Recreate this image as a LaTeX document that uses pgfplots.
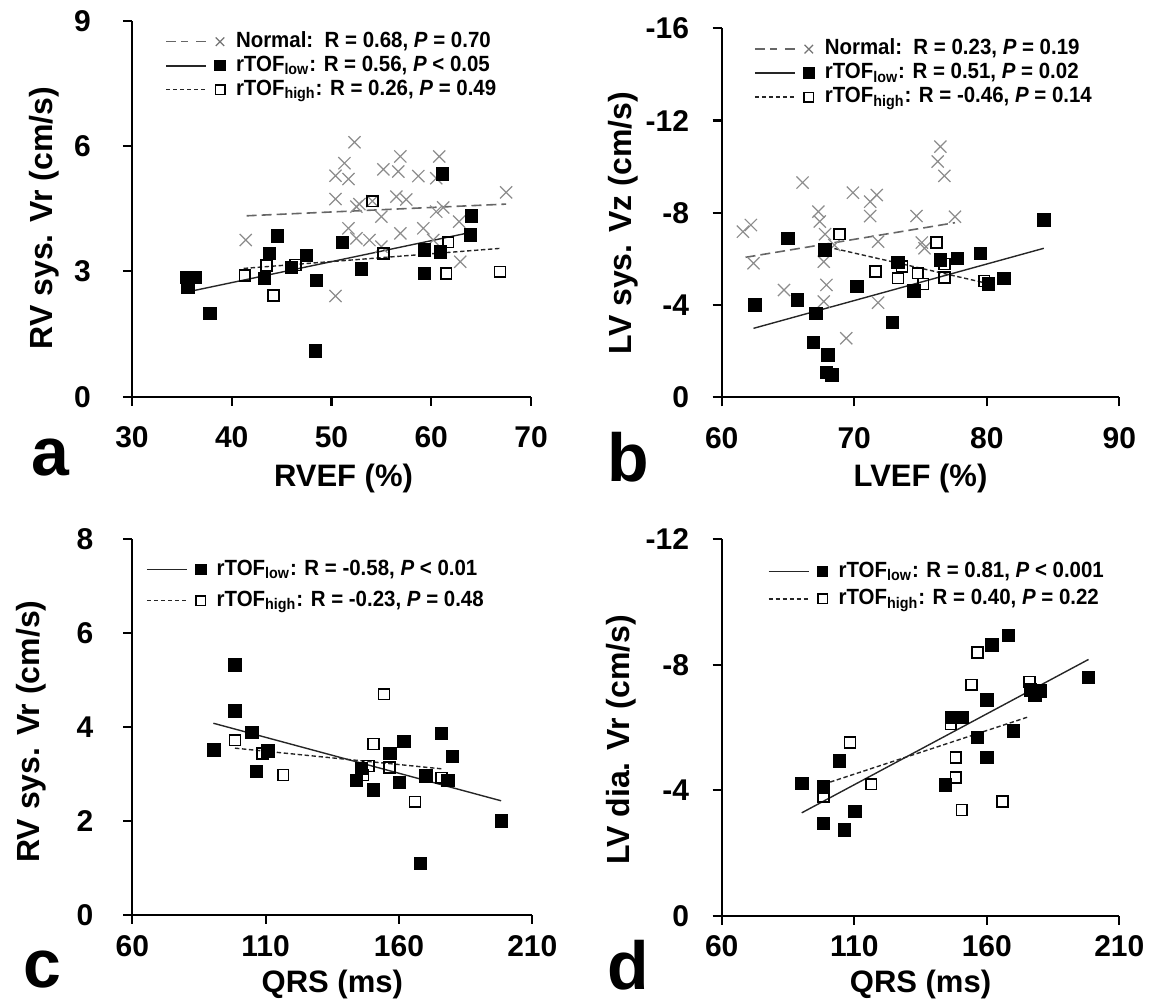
\documentclass[border=0pt]{standalone}
\usepackage{fontspec}
\setmainfont{Liberation Sans}
\newfontfamily\legfont[FakeStretch=0.93]{Liberation Sans}
\usepackage{pgfplots}
\pgfplotsset{compat=1.18}
\usepackage{graphicx}
\newcommand{\fs}[1]{\fontsize{#1}{#1}\selectfont\bfseries}
\newcommand{\lfs}[1]{\legfont\fontsize{#1}{#1}\selectfont\bfseries}
\pgfplotsset{
  panel/.style={
    scale only axis, clip=false,
    axis x line*=bottom, axis y line*=left,
    tick align=outside, major tick length=4.5pt,
    axis line style={line width=1.1pt, black},
    every tick/.style={line width=1.1pt, black},
    tick label style={font=\fs{15}},
    xlabel style={font=\fs{15.5}, anchor=base},
    ylabel style={font=\fs{16}, anchor=center},
    legend style={draw=none, fill=none, anchor=north west, inner sep=0pt, outer sep=0pt,
      font=\lfs{11}, row sep=0.4pt,
      nodes={inner sep=0.6pt, text height=8pt, text depth=2.4pt},
      /tikz/every even column/.append style={column sep=0pt}},
    legend cell align=left,
  },
  nmark/.style={only marks, mark=x, mark size=4.3pt, black!45, mark options={line width=0.6pt}},
  lmark/.style={only marks, mark=square*, mark size=3.1pt, black, mark options={fill=black}},
  hmark/.style={only marks, mark=square, mark size=2.7pt, black, mark options={line width=0.8pt, fill=white}},
  nline/.style={black!60, line width=0.8pt, dash pattern=on 5pt off 2.5pt,
    legend image code/.code={\draw[mark=none] (0pt,0pt)--(11pt,0pt) (15pt,0pt)--(20pt,0pt);
      \draw[solid, black!55, line width=0.6pt, mark=x, mark size=3pt] plot coordinates {(27pt,0pt)};
      \path (34pt,0pt);}},
  lline/.style={black!85, line width=0.7pt, solid,
    legend image code/.code={\draw[mark=none, line width=0.9pt] (0pt,0pt)--(20pt,0pt);
      \draw[solid, black, mark=square*, mark size=2.5pt, mark options={fill=black}] plot coordinates {(27pt,0pt)};
      \path (34pt,0pt);}},
  hline/.style={black!85, line width=0.7pt, dash pattern=on 2.2pt off 1.3pt,
    legend image code/.code={\draw[mark=none, line width=0.8pt] (0pt,0pt)--(20pt,0pt);
      \draw[solid, black, line width=0.7pt, mark=square, mark size=2.4pt, mark options={fill=white}] plot coordinates {(27pt,0pt)};
      \path (34pt,0pt);}},
}
\begin{document}
\begin{tikzpicture}
\useasboundingbox (0pt,0pt) rectangle (580pt,502pt);
% ---------------- panel a
\begin{axis}[panel, at={(66pt,303.65pt)}, anchor=south west, width=199.5pt, height=188pt,
  xmin=30, xmax=70, ymin=0, ymax=9, xtick={30,40,50,60,70}, ytick={0,3,6,9},
  xticklabels={30,40,50,60,70}, yticklabels={0,3,6,9},
  yticklabel shift=12.5pt, xticklabel shift=7pt,
  xlabel={RVEF (\%)}, ylabel={RV sys. Vr (cm/s)},
  xlabel style={at={(axis description cs:0.53,-0.24)}},
  ylabel style={at={(axis description cs:-0.2206,0.475)}},
  legend style={at={(axis description cs:0.083,0.975)}}]
\addplot[nmark, forget plot] coordinates {
(41.4,3.75) (50.4,2.41) (50.4,4.73) (50.4,5.29) (51.3,5.59) (51.7,5.21) (52.3,6.09) (51.7,4.03)
(52.5,4.55) (52.5,3.79) (52.8,4.61) (53.8,3.75) (54.1,4.68) (55.0,4.31) (55.2,5.44) (55.0,3.59)
(56.5,4.79) (56.7,5.39) (56.9,5.75) (56.9,3.91) (57.5,4.72) (58.7,5.28) (59.2,4.03) (60.2,3.75)
(60.5,5.23) (60.8,5.75) (60.5,4.43) (61.2,4.53) (62.8,4.19) (62.9,3.23) (67.5,4.89)};
\addplot[lmark, forget plot] coordinates {
(35.5,2.85) (36.3,2.85) (35.6,2.63) (37.8,2.00) (43.3,2.83) (43.8,3.43) (44.6,3.85) (46.0,3.09)
(47.5,3.38) (48.5,2.79) (48.4,1.10) (51.1,3.70) (53.0,3.06) (59.3,3.51) (59.3,2.95) (60.9,3.47)
(61.1,5.33) (64.0,4.33) (63.9,3.87)};
\addplot[hmark, forget plot] coordinates {
(41.3,2.90) (43.5,3.14) (44.2,2.42) (46.4,3.15) (54.1,4.68) (55.2,3.43) (61.7,3.70) (61.5,2.95) (66.9,2.99)};
\addplot[nline] coordinates {(41.5,4.33) (67.5,4.61)};
\addlegendentry{Normal:\ \ R = 0.68, \textit{P} = 0.70}
\addplot[lline] coordinates {(36.2,2.54) (63.9,3.93)};
\addlegendentry{rTOF\textsubscript{low}: R = 0.56, \textit{P} < 0.05}
\addplot[hline] coordinates {(41.2,3.07) (66.9,3.55)};
\addlegendentry{rTOF\textsubscript{high}: R = 0.26, \textit{P} = 0.49}
\end{axis}
% ---------------- panel b
\begin{axis}[panel, at={(360.85pt,303.35pt)}, anchor=south west, width=198.8pt, height=184.5pt,
  y dir=reverse,
  xmin=60, xmax=90, ymin=-16, ymax=0, xtick={60,70,80,90}, ytick={0,-4,-8,-12,-16},
  xticklabels={60,70,80,90}, yticklabels={0,-4,-8,-12,-16},
  yticklabel shift=8.3pt, xticklabel shift=7pt,
  xlabel={LVEF (\%)}, ylabel={LV sys. Vz (cm/s)},
  xlabel style={at={(axis description cs:0.5,-0.243)}},
  ylabel style={at={(axis description cs:-0.248,0.472)}},
  legend style={at={(axis description cs:0.081,0.975)}}]
\addplot[nmark, forget plot] coordinates {
(61.6,-7.18) (62.2,-7.47) (62.4,-5.81) (64.7,-4.65) (66.1,-9.31) (67.3,-8.05) (67.4,-7.62) (67.8,-7.07)
(67.7,-5.88) (67.9,-4.87) (67.7,-4.15) (69.4,-2.56) (69.9,-8.87) (71.2,-8.48) (71.7,-8.77) (71.2,-7.86)
(71.8,-6.75) (71.8,-4.10) (74.7,-7.86) (75.1,-6.71) (75.3,-6.46) (76.5,-10.87) (76.3,-10.22) (76.8,-9.60)
(77.6,-7.83) (68.5,-6.60)};
\addplot[lmark, forget plot] coordinates {
(62.5,-4.00) (65.0,-6.89) (65.7,-4.22) (67.1,-3.64) (67.8,-6.39) (66.9,-2.37) (68.0,-1.84) (67.9,-1.07)
(68.3,-0.97) (70.2,-4.80) (72.9,-3.24) (73.3,-5.84) (74.5,-4.62) (76.5,-5.95) (77.8,-6.03) (79.5,-6.24)
(80.1,-4.91) (81.3,-5.16) (84.3,-7.69)};
\addplot[hmark, forget plot] coordinates {
(68.9,-7.07) (71.6,-5.45) (73.3,-5.16) (73.6,-5.67) (74.8,-5.38) (75.2,-4.91) (76.2,-6.72) (76.8,-5.78)
(76.8,-5.19) (79.8,-5.04)};
\addplot[nline] coordinates {(61.8,-6.07) (77.6,-7.57)};
\addlegendentry{Normal:\ \ R = 0.23, \textit{P} = 0.19}
\addplot[lline] coordinates {(62.4,-2.99) (84.3,-6.46)};
\addlegendentry{rTOF\textsubscript{low}: R = 0.51, \textit{P} = 0.02}
\addplot[hline] coordinates {(68.5,-6.45) (79.8,-4.97)};
\addlegendentry{rTOF\textsubscript{high}: R = -0.46, \textit{P} = 0.14}
\end{axis}
% ---------------- panel c
\begin{axis}[panel, at={(66.15pt,44.5pt)}, anchor=south west, width=200pt, height=188pt,
  xmin=60, xmax=210, ymin=0, ymax=8, xtick={60,110,160,210}, ytick={0,2,4,6,8},
  xticklabels={60,110,160,210}, yticklabels={0,2,4,6,8},
  yticklabel shift=11.5pt, xticklabel shift=2pt,
  xlabel={QRS (ms)}, ylabel={RV sys. Vr (cm/s)},
  xlabel style={at={(axis description cs:0.5,-0.205)}},
  ylabel style={at={(axis description cs:-0.253,0.488)}},
  legend style={at={(axis description cs:0.034,0.95)}, row sep=4pt}]
\addplot[lmark, forget plot] coordinates {
(90.6,3.51) (98.5,5.32) (98.5,4.34) (104.8,3.89) (110.8,3.49) (106.6,3.06) (144.1,2.87) (146.0,3.12)
(150.4,2.66) (156.6,3.44) (160.1,2.82) (161.9,3.69) (168.1,1.10) (170.1,2.96) (176.0,3.87) (178.3,2.86)
(180.1,3.37) (198.3,2.00)};
\addplot[hmark, forget plot] coordinates {
(98.5,3.72) (108.8,3.44) (116.6,2.98) (146.6,2.98) (148.5,3.17) (150.4,3.64) (154.4,4.70) (156.4,3.14)
(166.0,2.41) (176.0,2.92)};
\addplot[lline] coordinates {(90.4,4.08) (198.3,2.43)};
\addlegendentry{rTOF\textsubscript{low}: R = -0.58, \textit{P} < 0.01}
\addplot[hline] coordinates {(98.5,3.55) (176.0,3.11)};
\addlegendentry{rTOF\textsubscript{high}: R = -0.23, \textit{P} = 0.48}
\end{axis}
% ---------------- panel d
\begin{axis}[panel, at={(360.85pt,44.15pt)}, anchor=south west, width=198.8pt, height=188.2pt,
  y dir=reverse,
  xmin=60, xmax=210, ymin=-12, ymax=0, xtick={60,110,160,210}, ytick={0,-4,-8,-12},
  xticklabels={60,110,160,210}, yticklabels={0,-4,-8,-12},
  yticklabel shift=8.3pt, xticklabel shift=2pt,
  xlabel={QRS (ms)}, ylabel={LV dia. Vr (cm/s)},
  xlabel style={at={(axis description cs:0.5,-0.205)}},
  ylabel style={at={(axis description cs:-0.253,0.467)}},
  legend style={at={(axis description cs:0.116,0.945)}, row sep=2pt}]
\addplot[lmark, forget plot] coordinates {
(90.2,-4.22) (98.4,-4.11) (98.4,-2.94) (104.4,-4.94) (106.3,-2.73) (110.3,-3.32) (144.3,-4.17) (146.8,-6.32)
(150.6,-6.32) (156.5,-5.68) (160.0,-6.88) (160.0,-5.04) (161.9,-8.63) (168.2,-8.93) (170.1,-5.89) (176.4,-7.20)
(178.2,-7.04) (180.1,-7.17) (198.4,-7.60)};
\addplot[hmark, forget plot] coordinates {
(98.4,-3.79) (108.4,-5.52) (116.4,-4.19) (146.4,-6.11) (148.3,-5.04) (148.3,-4.40) (150.6,-3.37) (154.3,-7.36)
(156.5,-8.39) (166.0,-3.64) (176.1,-7.46)};
\addplot[lline] coordinates {(90.2,-3.28) (198.4,-8.17)};
\addlegendentry{rTOF\textsubscript{low}: R = 0.81, \textit{P} < 0.001}
\addplot[hline] coordinates {(98.4,-4.19) (176.1,-6.35)};
\addlegendentry{rTOF\textsubscript{high}: R = 0.40, \textit{P} = 0.22}
\end{axis}
% panel letters
\node[anchor=base, font=\fs{34}] at (25pt,264pt) {a};
\node[anchor=base, font=\fs{34}] at (314pt,261pt) {b};
\node[anchor=base, font=\fs{34}] at (21pt,8pt) {c};
\node[anchor=base, font=\fs{34}] at (314pt,7pt) {d};
\end{tikzpicture}
\end{document}
